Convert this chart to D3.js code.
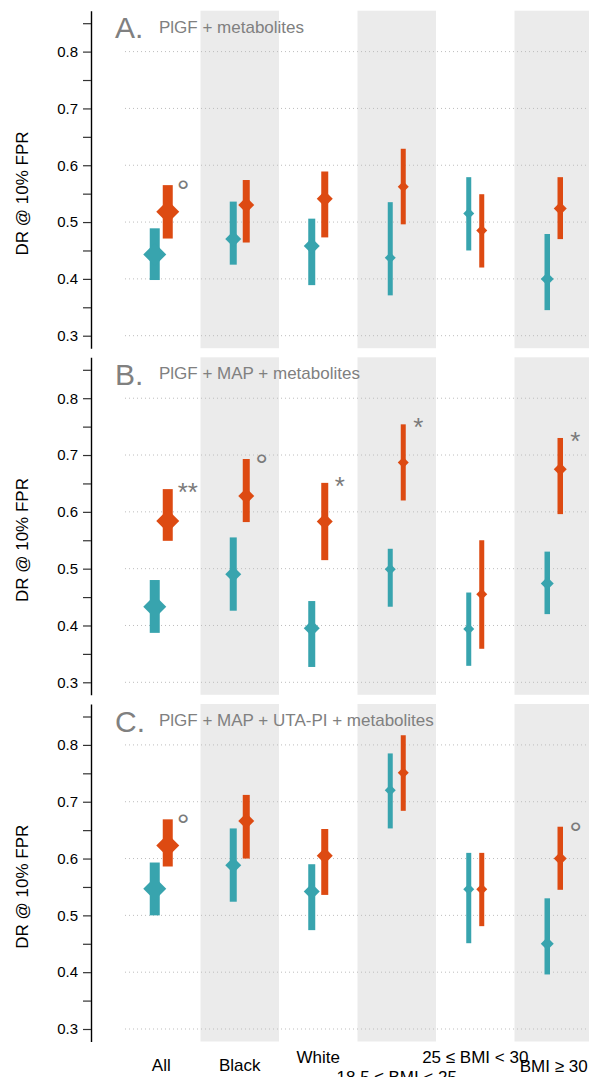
<!DOCTYPE html>
<meta charset="utf-8">
<head>
<style>
  body { margin: 0; background: #fff; }
  svg { display: block; font-family: "Liberation Sans", Arial, sans-serif; }
</style>
</head>
<body>
<svg width="589" height="1077"></svg>

<script src="https://d3js.org/d3.v7.min.js"></script>
<script>
// categories on the x axis
var categories = ["All", "Black", "White", "18.5 ≤ BMI < 25", "25 ≤ BMI < 30", "BMI ≥ 30"];

var panelLetters = ["A.", "B.", "C."];
var panelTitles = ["PlGF + metabolites", "PlGF + MAP + metabolites", "PlGF + MAP + UTA-PI + metabolites"];

// panel A
var tealEstA = [0.443, 0.470, 0.458, 0.437, 0.515, 0.400];
var tealLoA  = [0.398, 0.425, 0.389, 0.371, 0.450, 0.345];
var tealHiA  = [0.489, 0.536, 0.506, 0.535, 0.579, 0.479];
var redEstA  = [0.518, 0.530, 0.541, 0.562, 0.485, 0.524];
var redLoA   = [0.471, 0.464, 0.473, 0.496, 0.420, 0.470];
var redHiA   = [0.565, 0.574, 0.589, 0.629, 0.549, 0.579];
var marksA   = ["°", "", "", "", "", ""];

// panel B
var tealEstB = [0.433, 0.490, 0.395, 0.499, 0.394, 0.474];
var tealLoB  = [0.387, 0.426, 0.327, 0.433, 0.329, 0.420];
var tealHiB  = [0.480, 0.555, 0.443, 0.535, 0.458, 0.530];
var redEstB  = [0.584, 0.628, 0.583, 0.687, 0.455, 0.675];
var redLoB   = [0.549, 0.582, 0.515, 0.620, 0.359, 0.596];
var redHiB   = [0.640, 0.693, 0.651, 0.754, 0.550, 0.730];
var marksB   = ["**", "°", "*", "*", "", "*"];

// panel C
var tealEstC = [0.547, 0.588, 0.542, 0.720, 0.546, 0.450];
var tealLoC  = [0.500, 0.524, 0.474, 0.653, 0.451, 0.396];
var tealHiC  = [0.593, 0.653, 0.590, 0.785, 0.610, 0.530];
var redEstC  = [0.623, 0.666, 0.605, 0.751, 0.546, 0.600];
var redLoC   = [0.586, 0.600, 0.536, 0.684, 0.481, 0.545];
var redHiC   = [0.669, 0.712, 0.652, 0.817, 0.610, 0.656];
var marksC   = ["°", "", "", "", "", "°"];

var yTicks = d3.range(6, 18).map(function(i) { return i * 0.05; });

// ---- drawing ----
var teal = "#38a4ae", red = "#dd4a12", grey = "#808080";
var barW = [10, 7, 7, 5, 5, 5.5];          // errorbar width per category
var diamondW = [23, 16, 16, 11, 11, 13];   // diamond width per category
var labelBase = [1070.7, 1070.7, 1063.3, 1083, 1063.3, 1071.7];

var panels = [
  {tEst: tealEstA, tLo: tealLoA, tHi: tealHiA, rEst: redEstA, rLo: redLoA, rHi: redHiA, marks: marksA},
  {tEst: tealEstB, tLo: tealLoB, tHi: tealHiB, rEst: redEstB, rLo: redLoB, rHi: redHiB, marks: marksB},
  {tEst: tealEstC, tLo: tealLoC, tHi: tealHiC, rEst: redEstC, rLo: redLoC, rHi: redHiC, marks: marksC}
];

var svg = d3.select("svg"),
    axisX = 91,
    panelTop = [10.7, 357.3, 704],
    panelH = 337.5,
    dodge = 6.5;

var x = d3.scaleBand().domain(categories).range([122, 593]).padding(0);

panels.forEach(function(p, pi) {
  var top = panelTop[pi];
  var y = d3.scaleLinear().domain([0.278, 0.872]).range([top + panelH, top]);
  var g = svg.append("g");

  // grey bands on every second category
  g.selectAll("rect.band")
    .data(categories.filter(function(d, i) { return i % 2 === 1; }))
    .enter().append("rect")
      .attr("class", "band")
      .attr("x", function(d) { return x(d); })
      .attr("width", x.bandwidth())
      .attr("y", top)
      .attr("height", panelH)
      .attr("fill", "#ebebeb");

  // dotted grid
  g.selectAll("line.grid")
    .data(yTicks.filter(function(d) { return Math.round(d * 100) % 10 === 0; }))
    .enter().append("line")
      .attr("class", "grid")
      .attr("x1", 125).attr("x2", 589)
      .attr("y1", function(d) { return y(d); })
      .attr("y2", function(d) { return y(d); })
      .attr("stroke", "#bdbdbd")
      .attr("stroke-width", 1)
      .attr("stroke-dasharray", "1,3");

  // y axis
  var ax = g.append("g")
      .attr("transform", "translate(" + axisX + ",0)")
      .call(d3.axisLeft(y).tickValues(yTicks).tickSizeInner(8).tickSizeOuter(0).tickPadding(5)
        .tickFormat(function(d) { return Math.round(d * 100) % 10 === 0 ? d3.format(".1f")(d) : ""; }));
  ax.select(".domain").attr("stroke", "#000").attr("stroke-width", 1.4);
  ax.selectAll(".tick line").attr("stroke", "#333").attr("stroke-width", 1.2);
  ax.selectAll(".tick text").attr("fill", "#000").style("font-size", "15px").style("font-family", "Liberation Sans, Arial, sans-serif");

  g.append("text")
      .attr("transform", "translate(28," + (top + panelH / 2 + 14) + ") rotate(-90)")
      .attr("text-anchor", "middle")
      .style("font-size", "17px")
      .attr("fill", "#000")
      .text("DR @ 10% FPR");

  // panel letter and title
  g.append("text")
      .attr("x", 115).attr("y", top + 27.7)
      .style("font-size", "30px")
      .attr("fill", grey)
      .text(panelLetters[pi]);
  g.append("text")
      .attr("x", 159).attr("y", top + 22)
      .style("font-size", "17px")
      .attr("fill", grey)
      .text(panelTitles[pi]);

  // the two series, side by side in each category
  var series = [
    {est: p.tEst, lo: p.tLo, hi: p.tHi, color: teal, off: -dodge},
    {est: p.rEst, lo: p.rLo, hi: p.rHi, color: red, off: dodge}
  ];
  series.forEach(function(s) {
    var cx = function(d, i) { return x(categories[i]) + x.bandwidth() / 2 + s.off; };
    g.selectAll(null)
      .data(s.est)
      .enter().append("rect")
        .attr("x", function(d, i) { return cx(d, i) - barW[i] / 2; })
        .attr("width", function(d, i) { return barW[i]; })
        .attr("y", function(d, i) { return y(s.hi[i]); })
        .attr("height", function(d, i) { return y(s.lo[i]) - y(s.hi[i]); })
        .attr("fill", s.color);
    g.selectAll(null)
      .data(s.est)
      .enter().append("path")
        .attr("transform", function(d, i) { return "translate(" + cx(d, i) + "," + y(d) + ") rotate(45)"; })
        .attr("d", function(d, i) {
          var side = diamondW[i] / Math.SQRT2;
          return d3.symbol(d3.symbolSquare, side * side)();
        })
        .attr("fill", s.color);
  });

  // significance marks next to the red series
  g.selectAll("text.mark")
    .data(p.marks)
    .enter().append("text")
      .attr("class", "mark")
      .attr("x", function(d, i) { return x(categories[i]) + x.bandwidth() / 2 + dodge + (d === "°" ? 9 : 10); })
      .attr("y", function(d, i) { return y(p.rHi[i]) + (d === "°" ? 17 : 12); })
      .style("font-size", function(d) { return d === "°" ? "32px" : "26px"; })
      .attr("fill", "#7a7a7a")
      .text(function(d) { return d; });
});

// x labels under the last panel
svg.selectAll("text.xlab")
  .data(categories)
  .enter().append("text")
    .attr("class", "xlab")
    .attr("x", function(d) { return x(d) + x.bandwidth() / 2; })
    .attr("y", function(d, i) { return labelBase[i]; })
    .attr("text-anchor", "middle")
    .style("font-size", "17px")
    .attr("fill", "#000")
    .text(function(d) { return d; });
</script>

</body>
